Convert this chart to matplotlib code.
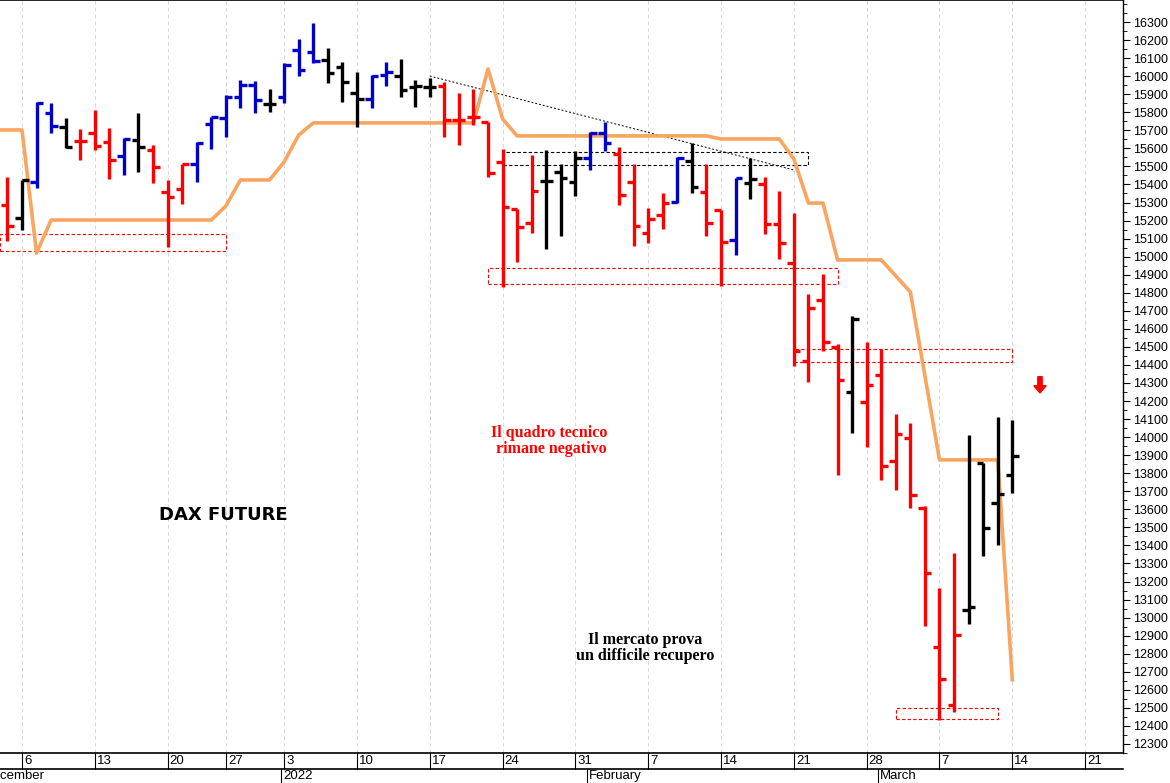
import matplotlib
matplotlib.use("Agg")
import matplotlib.pyplot as plt
from matplotlib.patches import Rectangle, FancyArrow

# OHLC per trading day, index 0 = 6 Dec 2021 (index -1 = 3 Dec)
bar_idx = list(range(-1, 69))
highs = [15441, 15425, 15857, 15851, 15768, 15707, 15813, 15713, 15657, 15796,
         15619, 15425, 15513, 15635, 15774, 15896, 15979, 15973, 15929, 16073,
         16206, 16295, 16156, 16079, 16023, 16007, 16079, 16095, 15979, 15990,
         15968, 15907, 15929, 15746, 15597, 15264, 15563, 15591, 15513, 15585,
         15691, 15746, 15608, 15513, 15270, 15353, 15552, 15630, 15513, 15259,
         15436, 15547, 15441, 15364, 15242, 14793, 14904, 14516, 14671, 14527,
         14489, 14128, 14079, 13619, 13165, 13358, 14012, 13858, 14112, 14095]
lows = [15087, 15148, 15380, 15685, 15602, 15536, 15591, 15430, 15452, 15469,
        15408, 15054, 15292, 15414, 15597, 15663, 15824, 15796, 15802, 15851,
        16001, 16073, 15962, 15857, 15718, 15824, 15946, 15885, 15829, 15885,
        15663, 15619, 15730, 15441, 14832, 14970, 15131, 15042, 15115, 15336,
        15480, 15585, 15286, 15059, 15076, 15153, 15297, 15353, 15115, 14838,
        15009, 15320, 15126, 14987, 14394, 14306, 14478, 13791, 14023, 13946,
        13763, 13707, 13608, 12954, 12433, 12477, 12965, 13341, 13403, 13691]
opens = [15286, 15214, 15414, 15796, 15718, 15641, 15685, 15635, 15558, 15646,
         15591, 15358, 15375, 15513, 15735, 15768, 15885, 15951, 15846, 15885,
         16145, 16134, 16090, 16051, 15907, 15874, 16007, 16001, 15940, 15940,
         15946, 15757, 15774, 15746, 15525, 15264, 15187, 15419, 15469, 15414,
         15547, 15685, 15569, 15414, 15131, 15231, 15303, 15530, 15358, 15259,
         15092, 15408, 15403, 15181, 14965, 14422, 14760, 14500, 14250, 14195,
         14345, 13868, 13995, 13608, 12838, 12516, 13043, 13858, 13635, 13791]
closes = [15170, 15425, 15851, 15724, 15608, 15641, 15613, 15536, 15652, 15608,
          15497, 15331, 15513, 15630, 15774, 15885, 15951, 15868, 15846, 16062,
          16034, 16084, 16018, 15968, 15874, 16001, 16023, 15923, 15946, 15940,
          15757, 15757, 15774, 15464, 15275, 15164, 15364, 15419, 15436, 15547,
          15685, 15630, 15342, 15170, 15209, 15297, 15547, 15386, 15187, 15081,
          15436, 15430, 15181, 15076, 14478, 14716, 14527, 14317, 14655, 14289,
          13840, 14018, 13680, 13248, 12660, 12904, 13060, 13497, 13685, 13896]
bar_colors = (["r", "k", "b", "b", "k", "r", "r", "r", "b", "k",
               "r", "r", "r", "b", "b", "b", "b", "b", "k", "b",
               "b", "b", "k", "k", "k", "b", "b", "k", "k", "k",
               "r", "r", "r", "r", "r", "r", "r", "k", "k", "k",
               "b", "b", "r", "r", "r", "r", "b", "k", "r", "r",
               "b", "k", "r", "r", "r", "r", "r", "r", "k", "r",
               "r", "r", "r", "r", "r", "r", "k", "k", "k", "k"])
color_map = {"r": "#ff0000", "b": "#0000cc", "k": "#000000"}

# orange stop line
stop_x = [-1.5, 0, 1, 2, 13, 14, 15, 17, 18, 19, 20, 31, 32, 33, 34, 47, 48,
          52, 53, 54, 55, 56, 59, 61, 63, 67, 68]
stop_y = [15702, 15702, 15020, 15203, 15203, 15281, 15425, 15425, 15525, 15674,
          15741, 15741, 16040, 15763, 15669, 15669, 15652, 15652, 15541, 15297,
          15297, 14982, 14982, 14804, 13874, 13874, 12655]

# dashed boxes
box_x0 = [-1.5, 33, 32, 53, 60]
box_x1 = [14, 54, 56, 68, 67]
box_lo = [15031, 15508, 14849, 14417, 12439]
box_hi = [15126, 15580, 14937, 14489, 12500]
box_col = ["#ff0000", "#000000", "#ff0000", "#ff0000", "#ff0000"]

trend_x = [28, 53]
trend_y = [16001, 15480]

week_idx = [0, 5, 10, 14, 18, 23, 28, 33, 38, 43, 48, 53, 58, 63, 68, 73]
week_lbl = ["6", "13", "20", "27", "3", "10", "17", "24", "31", "7", "14",
            "21", "28", "7", "14", "21"]
month_idx = [18, 39, 59]
month_lbl = ["2022", "February", "March"]

XMIN, XMAX = -1.51, 75.6
YMIN, YMAX = 12250, 16422

fig = plt.figure(figsize=(11.7, 7.83), dpi=100)
ax = fig.add_axes([0, 30 / 783, 1123 / 1170, 753 / 783])
ax.set_xlim(XMIN, XMAX)
ax.set_ylim(YMIN, YMAX)

for xv in week_idx:
    ax.axvline(xv, color="#d8d8d8", lw=0.7, ls=(0, (4, 3)), zorder=0)

for x0, x1, lo, hi, c in zip(box_x0, box_x1, box_lo, box_hi, box_col):
    ax.add_patch(Rectangle((x0, lo), x1 - x0, hi - lo, fill=False, ec=c,
                           lw=0.8, ls=(0, (3, 2)), zorder=1))

ax.plot(trend_x, trend_y, color="black", lw=0.7, ls=(0, (2, 2)), zorder=1)
ax.plot(stop_x, stop_y, color="#f9a560", lw=2.6, zorder=2,
        solid_joinstyle="round")

tick_w = 0.45
for i, h, l, o, c, col in zip(bar_idx, highs, lows, opens, closes, bar_colors):
    cc = color_map[col]
    ax.plot([i, i], [l, h], color=cc, lw=2.4, zorder=3, solid_capstyle="butt")
    ax.plot([i - tick_w, i], [o, o], color=cc, lw=2.4, zorder=3,
            solid_capstyle="butt")
    ax.plot([i, i + tick_w], [c, c], color=cc, lw=2.4, zorder=3,
            solid_capstyle="butt")

ax.add_patch(FancyArrow(69.9, 14335, 0, -50, width=0.3, head_width=0.85,
                        head_length=40, color="#ff0000", zorder=4))

ax.text(9.4, 13567, "DAX FUTURE", fontsize=13, fontweight="bold",
        ha="left", va="center", family="DejaVu Sans")
ax.text(36.2, 13980, "Il quadro tecnico\n rimane negativo", color="#ff0000",
        fontsize=11.5, fontweight="bold", ha="center", va="center",
        family="Liberation Serif", linespacing=1.0)
ax.text(42.8, 12830, "Il mercato prova\nun difficile recupero", color="black",
        fontsize=11.5, fontweight="bold", ha="center", va="center",
        family="Liberation Serif", linespacing=1.0)

# right price axis
ax.yaxis.tick_right()
ax.set_yticks(range(12300, 16301, 100))
ax.set_yticks(range(12250, 16401, 50), minor=True)
ax.tick_params(axis="y", which="major", length=5, labelsize=9, pad=2,
               direction="out")
ax.tick_params(axis="y", which="minor", length=3)
for lab in ax.get_yticklabels():
    lab.set_family("Liberation Sans")
ax.set_xticks([])
for s in ["left", "bottom"]:
    ax.spines[s].set_visible(False)
ax.spines["right"].set_linewidth(1)
ax.spines["top"].set_linewidth(1.2)


def fx(idx):
    return (idx - XMIN) / (XMAX - XMIN) * (1123 / 1170)


# date strip under the plot
row1_top, row1_bot = 30 / 783, 14.5 / 783
fig.add_artist(plt.Line2D([0, 1123 / 1170], [row1_top, row1_top], color="k", lw=1.2))
fig.add_artist(plt.Line2D([0, 1123 / 1170], [row1_bot, row1_bot], color="k", lw=1.2))
for xv, lbl in zip(week_idx, week_lbl):
    fig.add_artist(plt.Line2D([fx(xv), fx(xv)], [row1_bot, row1_top], color="k", lw=0.8))
    fig.text(fx(xv) + 2 / 1170, (row1_top + row1_bot) / 2, lbl, fontsize=9.5,
             ha="left", va="center", family="Liberation Sans")
fig.text(-16 / 1170, row1_bot / 2, "December", fontsize=9.5, ha="left",
         va="center", family="Liberation Sans")
for xv, lbl in zip(month_idx, month_lbl):
    x = fx(xv - 0.2)
    fig.add_artist(plt.Line2D([x, x], [0, row1_bot], color="k", lw=0.8))
    fig.text(x + 2 / 1170, row1_bot / 2, lbl, fontsize=9.5, ha="left",
             va="center", family="Liberation Sans")

fig.savefig("out.png", dpi=100)
